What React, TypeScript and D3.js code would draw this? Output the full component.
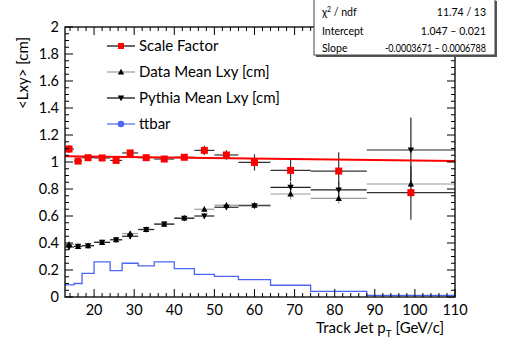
import React from "react"
import * as d3 from "d3"

// bin edges of Track Jet pT [GeV/c]
const binEdges = [12.5, 15, 17, 20, 24, 27, 31, 35, 40, 45, 50, 56, 64, 74, 88, 110]

const scaleFactor = [1.096, 1.007, 1.032, 1.03, 1.012, 1.067, 1.032, 1.022, 1.035, 1.086, 1.052, 0.997, 0.938, 0.933, 0.773]
const scaleFactorErr = [0.03, 0.02, 0.015, 0.015, 0.015, 0.015, 0.015, 0.015, 0.02, 0.035, 0.035, 0.06, 0.08, 0.14, 0.2]

const dataMean = [0.39, 0.375, 0.38, 0.405, 0.424, 0.47, 0.5, 0.54, 0.585, 0.65, 0.68, 0.68, 0.763, 0.731, 0.837]
const dataMeanErr = [0.02, 0.01, 0.01, 0.01, 0.01, 0.015, 0.01, 0.01, 0.015, 0.02, 0.02, 0.02, 0.04, 0.04, 0.1]

const pythiaMean = [0.37, 0.375, 0.38, 0.405, 0.424, 0.45, 0.5, 0.54, 0.583, 0.6, 0.665, 0.676, 0.812, 0.793, 1.089]
const pythiaMeanErr = [0.02, 0.01, 0.01, 0.01, 0.01, 0.02, 0.01, 0.01, 0.01, 0.02, 0.02, 0.02, 0.04, 0.06, 0.24]

const ttbar = [0.09, 0.1, 0.175, 0.26, 0.195, 0.25, 0.23, 0.26, 0.21, 0.168, 0.153, 0.128, 0.087, 0.042, 0.012]

const fitIntercept = 1.047
const fitSlope = -0.0003671

const xTicks = [20, 30, 40, 50, 60, 70, 80, 90, 100, 110]
const yTicks = [0, 0.2, 0.4, 0.6, 0.8, 1, 1.2, 1.4, 1.6, 1.8, 2]

const legendLabels = ["Scale Factor", "Data Mean Lxy [cm]", "Pythia Mean Lxy [cm]", "ttbar"]

const W = 506
const H = 346
const m = { left: 65, right: 51, top: 27, bottom: 49 }
const font = "Lato, 'Open Sans', sans-serif"
const blue = "#4d66f2"

export default function App() {
  const x = d3.scaleLinear().domain([12.75, 110]).range([m.left, W - m.right])
  const y = d3.scaleLinear().domain([0, 2]).range([H - m.bottom, m.top])
  const [x0, x1] = x.range()
  const [yb, yt] = y.range()

  const centers = binEdges.slice(0, -1).map((e, i) => (e + binEdges[i + 1]) / 2)

  const histLine = d3
    .line<number>()
    .x((_, i) => x(binEdges[Math.min(i, binEdges.length - 1)]))
    .y((d) => y(d))
    .curve(d3.curveStepAfter)
  const histPath = histLine([...ttbar, ttbar[ttbar.length - 1]])

  const xMinor = d3.range(14, 110.01, 2).filter((v) => v % 10 !== 0)
  const yMinor = d3.range(0, 2.001, 0.05).filter((v) => Math.abs(v * 5 - Math.round(v * 5)) > 1e-6)

  const errBars = (vals: number[], errs: number[], color: string, key: string) =>
    vals.map((v, i) => (
      <g key={key + i} stroke={color} strokeWidth={1.2}>
        <line x1={x(binEdges[i])} x2={x(binEdges[i + 1])} y1={y(v)} y2={y(v)} />
        <line x1={x(centers[i])} x2={x(centers[i])} y1={y(v - errs[i])} y2={y(v + errs[i])} />
      </g>
    ))

  const tri = (cx: number, cy: number, up: boolean) => {
    const s = 3.2
    return up
      ? `M${cx},${cy - s}L${cx + s},${cy + s * 0.8}L${cx - s},${cy + s * 0.8}Z`
      : `M${cx},${cy + s}L${cx + s},${cy - s * 0.8}L${cx - s},${cy - s * 0.8}Z`
  }

  const legendY = [46, 72, 98, 124]

  return (
    <svg width={W} height={H} style={{ position: "absolute", left: 0, top: 0, background: "#fff" }} fontFamily={font}>
      <defs>
        <clipPath id="plot">
          <rect x={x0} y={yt} width={x1 - x0} height={yb - yt} />
        </clipPath>
      </defs>

      <g clipPath="url(#plot)">
        <path d={histPath || ""} fill="none" stroke={blue} strokeWidth={1.3} />
        {errBars(dataMean, dataMeanErr, "#9a9a9a", "d")}
        {errBars(pythiaMean, pythiaMeanErr, "#222", "p")}
        {errBars(scaleFactor, scaleFactorErr, "#333", "s")}
        <line
          x1={x0}
          x2={x1}
          y1={y(fitIntercept + fitSlope * x.domain()[0])}
          y2={y(fitIntercept + fitSlope * x.domain()[1])}
          stroke="#ff0000"
          strokeWidth={2}
        />
        {dataMean.map((v, i) => (
          <path key={"dm" + i} d={tri(x(centers[i]), y(v), true)} fill="#000" />
        ))}
        {pythiaMean.map((v, i) => (
          <path key={"pm" + i} d={tri(x(centers[i]), y(v), false)} fill="#000" />
        ))}
        {scaleFactor.map((v, i) => (
          <rect key={"sf" + i} x={x(centers[i]) - 3.5} y={y(v) - 3.5} width={7} height={7} fill="#ff0000" />
        ))}
      </g>

      {/* frame and ticks */}
      <rect x={x0} y={yt} width={x1 - x0} height={yb - yt} fill="none" stroke="#000" strokeWidth={1.3} />
      <g stroke="#000" strokeWidth={1}>
        {xTicks.map((t) => (
          <g key={"xt" + t}>
            <line x1={x(t)} x2={x(t)} y1={yb} y2={yb - 8} />
            <line x1={x(t)} x2={x(t)} y1={yt} y2={yt + 8} />
          </g>
        ))}
        {xMinor.map((t) => (
          <g key={"xm" + t}>
            <line x1={x(t)} x2={x(t)} y1={yb} y2={yb - 4} />
            <line x1={x(t)} x2={x(t)} y1={yt} y2={yt + 4} />
          </g>
        ))}
        {yTicks.map((t) => (
          <g key={"yt" + t}>
            <line x1={x0} x2={x0 + 8} y1={y(t)} y2={y(t)} />
            <line x1={x1} x2={x1 - 8} y1={y(t)} y2={y(t)} />
          </g>
        ))}
        {yMinor.map((t) => (
          <g key={"ym" + t}>
            <line x1={x0} x2={x0 + 4} y1={y(t)} y2={y(t)} />
            <line x1={x1} x2={x1 - 4} y1={y(t)} y2={y(t)} />
          </g>
        ))}
      </g>

      <g fontSize={14.5} fill="#000">
        {xTicks.map((t) => (
          <text key={"xl" + t} x={x(t)} y={yb + 18} textAnchor="middle">
            {t}
          </text>
        ))}
        {yTicks.map((t) => (
          <text key={"yl" + t} x={x0 - 6} y={y(t) + 5} textAnchor="end">
            {d3.format("~g")(t)}
          </text>
        ))}
      </g>

      <text x={x1 - 11} y={333} textAnchor="end" fontSize={15}>
        Track Jet p<tspan dy={4} fontSize={10}>T</tspan>
        <tspan dy={-4}> [GeV/c]</tspan>
      </text>
      <text transform={`translate(28,37) rotate(-90)`} textAnchor="end" fontSize={15}>
        {"<Lxy> [cm]"}
      </text>

      {/* legend */}
      <g fontSize={15}>
        {legendLabels.map((label, i) => {
          const ly = legendY[i]
          const lineColor = i === 1 ? "#9a9a9a" : i === 3 ? blue : "#000"
          return (
            <g key={label}>
              <line x1={107} x2={135} y1={ly} y2={ly} stroke={lineColor} strokeWidth={1.2} />
              {i === 0 && <rect x={118} y={ly - 3} width={6} height={6} fill="#ff0000" />}
              {i === 1 && <path d={tri(121, ly, true)} fill="#000" />}
              {i === 2 && <path d={tri(121, ly, false)} fill="#000" />}
              {i === 3 && <circle cx={121} cy={ly} r={3.3} fill={blue} />}
              <text x={139} y={ly + 5}>
                {label}
              </text>
            </g>
          )
        })}
      </g>

      {/* fit statistics box */}
      <rect x={316} y={1} width={181} height={56} fill="#555" />
      <rect x={314} y={-1} width={181} height={56} fill="#fff" stroke="#444" strokeWidth={1} />
      <g fontSize={10.5} fill="#000">
        <text x={322} y={16}>
          χ<tspan dy={-4} fontSize={7}>2</tspan>
          <tspan dy={4}> / ndf</tspan>
        </text>
        <text x={486} y={16} textAnchor="end">11.74 / 13</text>
        <text x={322} y={35}>Intercept</text>
        <text x={486} y={35} textAnchor="end">1.047 – 0.021</text>
        <text x={322} y={52}>Slope</text>
        <text x={486} y={52} textAnchor="end" textLength={101} lengthAdjust="spacingAndGlyphs">
          -0.0003671 – 0.0006788
        </text>
      </g>
    </svg>
  )
}
